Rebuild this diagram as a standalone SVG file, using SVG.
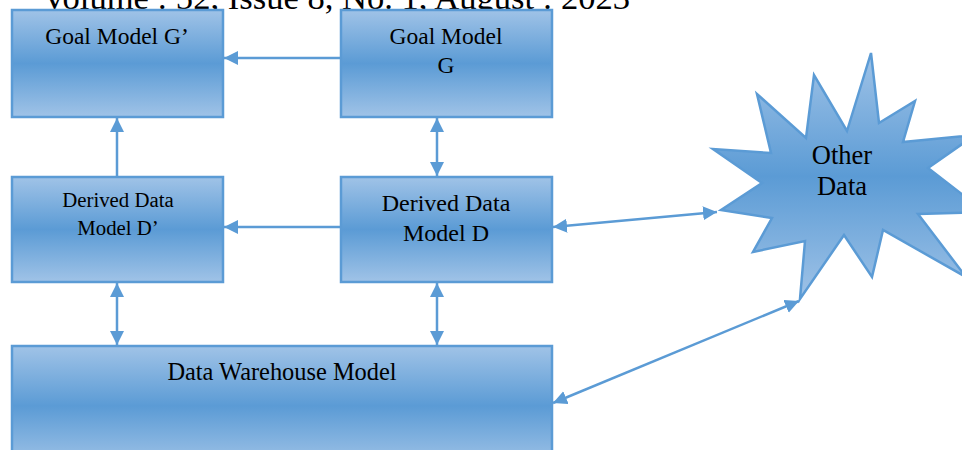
<svg xmlns="http://www.w3.org/2000/svg" width="962" height="450" viewBox="0 0 962 450">
<style>
.box{stroke:#5b9bd5;stroke-width:2.5;}
.c{stroke:#5b9bd5;stroke-width:2.5;fill:none;}
</style>
<defs>
<linearGradient id="g" x1="0" y1="0" x2="0" y2="1">
<stop offset="0" stop-color="#a0c3e7"/>
<stop offset="0.5" stop-color="#5b9bd5"/>
<stop offset="1" stop-color="#a0c3e7"/>
</linearGradient>
<linearGradient id="gs" gradientUnits="userSpaceOnUse" x1="0" y1="53" x2="0" y2="300">
<stop offset="0" stop-color="#a0c3e7"/>
<stop offset="0.5" stop-color="#5b9bd5"/>
<stop offset="1" stop-color="#a0c3e7"/>
</linearGradient>
<marker id="a" markerUnits="userSpaceOnUse" markerWidth="16" markerHeight="14" refX="14" refY="7" orient="auto-start-reverse">
<path d="M0,0 L14,7 L0,14 z" fill="#5b9bd5"/>
</marker>
</defs>
<rect width="962" height="450" fill="#fff"/>
<text x="42" y="9" font-family="Liberation Serif, Times New Roman, serif" font-size="34.6" fill="#000">Volume : 52, Issue 8, No. 1, August : 2023</text>
<g font-family="Liberation Serif, Times New Roman, serif" fill="#000" text-anchor="middle">
<g id="goalG2">
<rect class="box" x="12" y="10" width="211" height="107" fill="url(#g)"/>
<text x="117" y="44" font-size="23.5">Goal Model G’</text>
</g>
<g id="goalG">
<rect class="box" x="341" y="10" width="211" height="107" fill="url(#g)"/>
<text x="446" y="44" font-size="23.5">Goal Model</text>
<text x="446" y="73" font-size="23.5">G</text>
</g>
<g id="derivedD2">
<rect class="box" x="12" y="177" width="211" height="105" fill="url(#g)"/>
<text x="118" y="207" font-size="20.8">Derived Data</text>
<text x="118" y="235" font-size="20.8">Model D’</text>
</g>
<g id="derivedD">
<rect class="box" x="341" y="177" width="211" height="105" fill="url(#g)"/>
<text x="446" y="211" font-size="24">Derived Data</text>
<text x="446" y="241" font-size="24">Model D</text>
</g>
<g id="warehouse">
<rect class="box" x="12" y="346" width="540" height="120" fill="url(#g)"/>
<text x="282" y="380" font-size="24.4">Data Warehouse Model</text>
</g>
<g id="otherData">
<path class="box" fill="url(#gs)" d="M871,53 L879,123 L915,101 L903,142 L975,135 L928,168 L985,212 L918,214 L966,277 L883,230 L872,277 L844,235 L800,299 L805,241 L753,252 L772,218 L721,210 L762,183 L713,149 L771,153 L757,94 L806,138 L814,75 L847,131 Z"/>
<text x="842" y="164" font-size="26.5">Other</text>
<text x="842" y="195" font-size="26.5">Data</text>
</g>
</g>
<g id="connectors">
<line class="c" x1="341" y1="58" x2="224" y2="58" marker-end="url(#a)"/>
<line class="c" x1="117" y1="177" x2="117" y2="118" marker-end="url(#a)"/>
<line class="c" x1="437" y1="118" x2="437" y2="176" marker-start="url(#a)" marker-end="url(#a)"/>
<line class="c" x1="341" y1="227" x2="224" y2="227" marker-end="url(#a)"/>
<line class="c" x1="117" y1="283" x2="117" y2="345" marker-start="url(#a)" marker-end="url(#a)"/>
<line class="c" x1="437" y1="283" x2="437" y2="345" marker-start="url(#a)" marker-end="url(#a)"/>
<line class="c" x1="553" y1="227" x2="717" y2="212" marker-start="url(#a)" marker-end="url(#a)"/>
<line class="c" x1="553" y1="403" x2="799" y2="301" marker-start="url(#a)" marker-end="url(#a)"/>
</g>
</svg>
